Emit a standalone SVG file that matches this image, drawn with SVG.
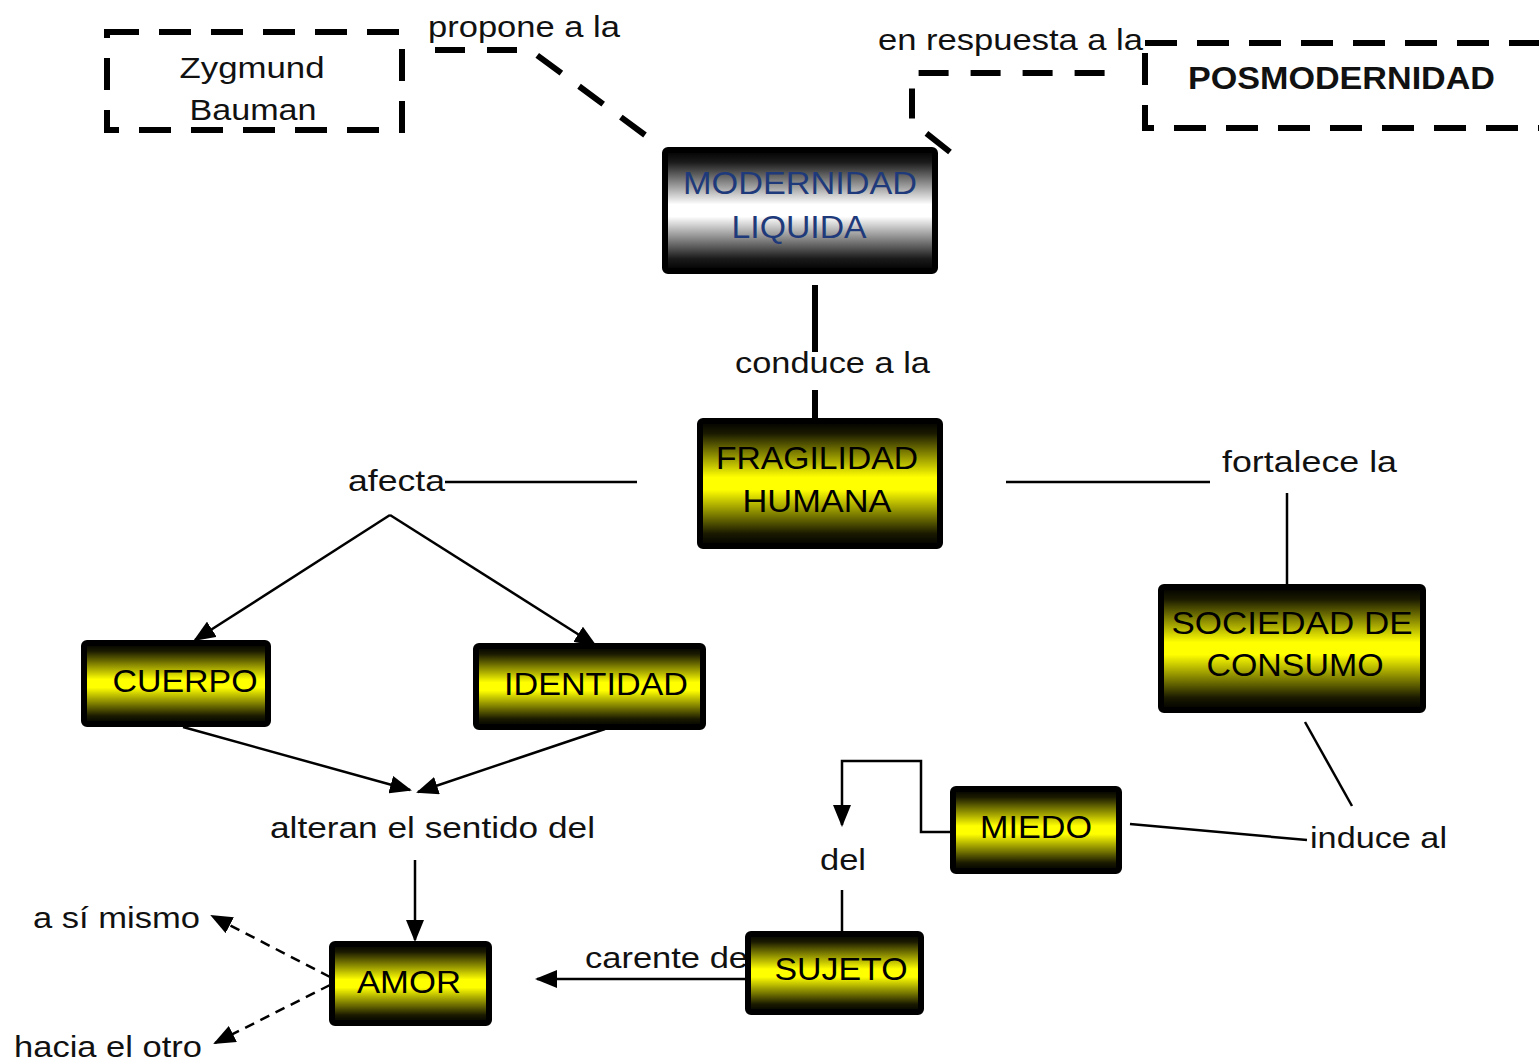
<svg xmlns="http://www.w3.org/2000/svg" width="1539" height="1060" viewBox="0 0 1539 1060">
<defs>
<linearGradient id="gy" x1="0" y1="0" x2="0" y2="1">
<stop offset="0" stop-color="#000"/>
<stop offset="0.1" stop-color="#1a1a00"/>
<stop offset="0.45" stop-color="#ffff00"/>
<stop offset="0.55" stop-color="#ffff00"/>
<stop offset="0.9" stop-color="#1a1a00"/>
<stop offset="1" stop-color="#000"/>
</linearGradient>
<linearGradient id="gw" x1="0" y1="0" x2="0" y2="1">
<stop offset="0" stop-color="#000"/>
<stop offset="0.1" stop-color="#1a1a1a"/>
<stop offset="0.45" stop-color="#ffffff"/>
<stop offset="0.55" stop-color="#ffffff"/>
<stop offset="0.9" stop-color="#1a1a1a"/>
<stop offset="1" stop-color="#000"/>
</linearGradient>
<marker id="ah" markerWidth="22" markerHeight="18" refX="20" refY="9" orient="auto" markerUnits="userSpaceOnUse">
<path d="M0,0 L22,9 L0,18 Z" fill="#000"/>
</marker>
</defs>
<style>
.nb{stroke:#000;stroke-width:6;fill:url(#gy)}
.nw{stroke:#000;stroke-width:6;fill:url(#gw)}
.nt{font-family:"Liberation Sans",Arial,sans-serif;font-size:32px;fill:#000;text-anchor:middle}
.lb{font-family:"Liberation Sans",Arial,sans-serif;font-size:29px;fill:#111}
.dr{fill:none;stroke:#000;stroke-width:6;stroke-dasharray:32 20}
.dl{fill:none;stroke:#000;stroke-width:6;stroke-dasharray:30 22}
.tk{fill:none;stroke:#000;stroke-width:6}
.th{fill:none;stroke:#000;stroke-width:2.5}
.dt{fill:none;stroke:#000;stroke-width:2.5;stroke-dasharray:10 7}
</style>
<rect width="1539" height="1060" fill="#fff"/>
<g id="connectors">
<path class="dl" d="M414,50 L530,50 L645,135" stroke-dashoffset="-21"/>
<path class="dl" d="M1126,73 L912,73 L912,122 L950,152" stroke-dashoffset="-21.4"/>
<path class="tk" d="M815,285 V352 M815,390 V421"/>
<path class="th" d="M637,482 H445"/>
<path class="th" d="M390,515 L195,640" marker-end="url(#ah)"/>
<path class="th" d="M390,515 L595,645" marker-end="url(#ah)"/>
<path class="th" d="M1006,482 H1210"/>
<path class="th" d="M1287,493 V587"/>
<path class="th" d="M1305,722 L1352,806"/>
<path class="th" d="M1307,840 L1130,824"/>
<path class="th" d="M953,832 H921 V761 H842 V825" marker-end="url(#ah)"/>
<path class="th" d="M842,890 V935"/>
<path class="th" d="M748,979 H537" marker-end="url(#ah)"/>
<path class="th" d="M183,727 L410,790" marker-end="url(#ah)"/>
<path class="th" d="M605,729 L418,792" marker-end="url(#ah)"/>
<path class="th" d="M415,860 V940" marker-end="url(#ah)"/>
<path class="dt" d="M330,977 L212,916" marker-end="url(#ah)"/>
<path class="dt" d="M330,985 L215,1043" marker-end="url(#ah)"/>
</g>
<g id="labels">
<text class="lb" x="428" y="37" textLength="192" lengthAdjust="spacingAndGlyphs">propone a la</text>
<text class="lb" x="878" y="50" textLength="265" lengthAdjust="spacingAndGlyphs">en respuesta a la</text>
<text class="lb" x="735" y="373" textLength="195" lengthAdjust="spacingAndGlyphs">conduce a la</text>
<text class="lb" x="348" y="491" textLength="97" lengthAdjust="spacingAndGlyphs">afecta</text>
<text class="lb" x="1222" y="472" textLength="175" lengthAdjust="spacingAndGlyphs">fortalece la</text>
<text class="lb" x="270" y="838" textLength="325" lengthAdjust="spacingAndGlyphs">alteran el sentido del</text>
<text class="lb" x="1310" y="848" textLength="137" lengthAdjust="spacingAndGlyphs">induce al</text>
<text class="lb" x="820" y="870" textLength="46" lengthAdjust="spacingAndGlyphs">del</text>
<text class="lb" x="585" y="968" textLength="163" lengthAdjust="spacingAndGlyphs">carente de</text>
<text class="lb" x="33" y="928" textLength="167" lengthAdjust="spacingAndGlyphs">a sí mismo</text>
<text class="lb" x="14" y="1057" textLength="188" lengthAdjust="spacingAndGlyphs">hacia el otro</text>
</g>
<g id="zygmund">
<rect class="dr" x="107" y="32" width="295" height="98"/>
<text class="lb" x="252" y="78" text-anchor="middle" textLength="145" lengthAdjust="spacingAndGlyphs">Zygmund</text>
<text class="lb" x="253" y="120" text-anchor="middle" textLength="127" lengthAdjust="spacingAndGlyphs">Bauman</text>
</g>
<g id="posmodernidad">
<rect class="dr" x="1145" y="43" width="430" height="85"/>
<text x="1188" y="89" font-family="Liberation Sans, Arial, sans-serif" font-weight="bold" font-size="31" fill="#111" textLength="307" lengthAdjust="spacingAndGlyphs">POSMODERNIDAD</text>
</g>
<g id="modernidad">
<rect class="nw" x="665" y="150" width="270" height="121" rx="3"/>
<text class="nt" x="800" y="194" style="fill:#1f3a7a" textLength="234" lengthAdjust="spacingAndGlyphs">MODERNIDAD</text>
<text class="nt" x="799" y="238" style="fill:#1f3a7a" textLength="135" lengthAdjust="spacingAndGlyphs">LIQUIDA</text>
</g>
<g id="fragilidad">
<rect class="nb" x="700" y="421" width="240" height="125" rx="3"/>
<text class="nt" x="817" y="469" textLength="202" lengthAdjust="spacingAndGlyphs">FRAGILIDAD</text>
<text class="nt" x="817" y="512" textLength="149" lengthAdjust="spacingAndGlyphs">HUMANA</text>
</g>
<g id="sociedad">
<rect class="nb" x="1161" y="587" width="262" height="123" rx="3"/>
<text class="nt" x="1292" y="634" textLength="241" lengthAdjust="spacingAndGlyphs">SOCIEDAD DE</text>
<text class="nt" x="1295" y="676" textLength="177" lengthAdjust="spacingAndGlyphs">CONSUMO</text>
</g>
<g id="cuerpo">
<rect class="nb" x="84" y="643" width="184" height="81" rx="3"/>
<text class="nt" x="185" y="692" textLength="145" lengthAdjust="spacingAndGlyphs">CUERPO</text>
</g>
<g id="identidad">
<rect class="nb" x="476" y="646" width="227" height="81" rx="3"/>
<text class="nt" x="596" y="695" textLength="184" lengthAdjust="spacingAndGlyphs">IDENTIDAD</text>
</g>
<g id="miedo">
<rect class="nb" x="953" y="789" width="166" height="82" rx="3"/>
<text class="nt" x="1036" y="838" textLength="112" lengthAdjust="spacingAndGlyphs">MIEDO</text>
</g>
<g id="sujeto">
<rect class="nb" x="748" y="934" width="173" height="78" rx="3"/>
<text class="nt" x="841" y="980" textLength="133" lengthAdjust="spacingAndGlyphs">SUJETO</text>
</g>
<g id="amor">
<rect class="nb" x="332" y="944" width="157" height="79" rx="3"/>
<text class="nt" x="409" y="993" textLength="104" lengthAdjust="spacingAndGlyphs">AMOR</text>
</g>
</svg>
